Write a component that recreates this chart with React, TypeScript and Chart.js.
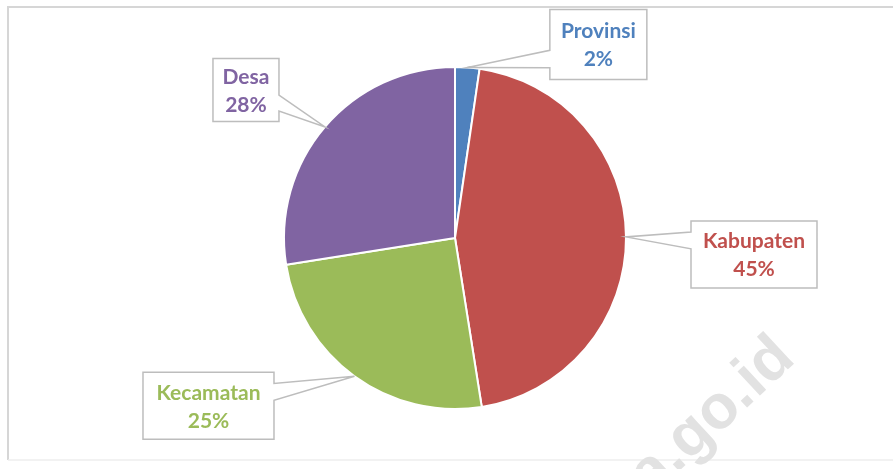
import React, { useEffect, useRef } from "react";
import { Chart, registerables } from "chart.js";

Chart.register(...registerables);

// ---- data ----
const categories = ["Provinsi", "Kabupaten", "Kecamatan", "Desa"];
const shares = [2.3, 45.2, 25.0, 27.5];
const sliceColors = ["#4F81BD", "#C0504D", "#9BBB59", "#8064A2"];
const watermarkText = "kemendesa.go.id";

// ---- callout layout (box centre offset from slice anchor, box size) ----
const calloutLayout = [
  { dx: 131, dy: -23, w: 97, h: 70 },
  { dx: 128, dy: 17.5, w: 126, h: 67 },
  { dx: -146, dy: 29.5, w: 131, h: 67 },
  { dx: -79, dy: -37, w: 66, h: 63 },
];

const framePlugin = {
  id: "frame",
  beforeDraw(chart: any) {
    const ctx = chart.ctx as CanvasRenderingContext2D;
    const W = chart.width;
    const H = chart.height;
    ctx.save();
    ctx.fillStyle = "#ffffff";
    ctx.fillRect(0, 0, W, H);
    ctx.strokeStyle = "#d6d6d6";
    ctx.lineWidth = 2;
    ctx.beginPath();
    ctx.moveTo(8, 460);
    ctx.lineTo(8, 7);
    ctx.lineTo(W + 2, 7);
    ctx.stroke();
    ctx.strokeStyle = "#eeeeee";
    ctx.lineWidth = 1.5;
    ctx.beginPath();
    ctx.moveTo(8, 460);
    ctx.lineTo(W + 2, 460);
    ctx.stroke();
    // watermark
    ctx.translate(797, 361);
    ctx.rotate((-43 * Math.PI) / 180);
    ctx.font = "bold 62px 'Liberation Sans', Arial, sans-serif";
    ctx.textAlign = "right";
    ctx.textBaseline = "alphabetic";
    ctx.fillStyle = "#e2e2e2";
    ctx.fillText(watermarkText, 0, 0);
    ctx.restore();
  },
};

const calloutPlugin = {
  id: "callouts",
  afterDatasetsDraw(chart: any) {
    const ctx = chart.ctx as CanvasRenderingContext2D;
    const meta = chart.getDatasetMeta(0);
    const values: number[] = chart.data.datasets[0].data;
    const total = values.reduce((a, b) => a + b, 0);
    meta.data.forEach((arc: any, i: number) => {
      const p = arc.getProps(["x", "y", "startAngle", "endAngle", "outerRadius"], true);
      const mid = (p.startAngle + p.endAngle) / 2;
      const ax = p.x + Math.cos(mid) * p.outerRadius;
      const ay = p.y + Math.sin(mid) * p.outerRadius;
      const L = calloutLayout[i];
      const cx = ax + L.dx;
      const cy = ay + L.dy;
      const l = cx - L.w / 2;
      const t = cy - L.h / 2;
      const r = l + L.w;
      const b = t + L.h;
      const dxPos = ax - cx;
      const dyPos = ay - cy;
      const horizontal = Math.abs(dyPos) < Math.abs((dxPos * L.h) / L.w);
      const y1 = t + (L.h * (dyPos > 0 ? 7 : 2)) / 12;
      const y2 = t + (L.h * (dyPos > 0 ? 10 : 5)) / 12;
      const x1 = l + (L.w * (dxPos > 0 ? 7 : 2)) / 12;
      const x2 = l + (L.w * (dxPos > 0 ? 10 : 5)) / 12;

      ctx.save();
      ctx.beginPath();
      ctx.moveTo(l, t);
      if (!horizontal && dyPos < 0) {
        ctx.lineTo(x1, t);
        ctx.lineTo(ax, ay);
        ctx.lineTo(x2, t);
      }
      ctx.lineTo(r, t);
      if (horizontal && dxPos > 0) {
        ctx.lineTo(r, y1);
        ctx.lineTo(ax, ay);
        ctx.lineTo(r, y2);
      }
      ctx.lineTo(r, b);
      if (!horizontal && dyPos > 0) {
        ctx.lineTo(x2, b);
        ctx.lineTo(ax, ay);
        ctx.lineTo(x1, b);
      }
      ctx.lineTo(l, b);
      if (horizontal && dxPos < 0) {
        ctx.lineTo(l, y2);
        ctx.lineTo(ax, ay);
        ctx.lineTo(l, y1);
      }
      ctx.closePath();
      ctx.fillStyle = "#ffffff";
      ctx.fill();
      ctx.strokeStyle = "#bdbdbd";
      ctx.lineWidth = 1.5;
      ctx.lineJoin = "miter";
      ctx.stroke();

      ctx.fillStyle = sliceColors[i];
      ctx.font = "bold 21px Lato, 'Open Sans', sans-serif";
      ctx.textAlign = "center";
      ctx.textBaseline = "middle";
      const pct = Math.round((values[i] / total) * 100) + "%";
      ctx.fillText(categories[i], cx, cy - 13);
      ctx.fillText(pct, cx, cy + 15);
      ctx.restore();
    });
  },
};

export default function App() {
  const ref = useRef<HTMLCanvasElement>(null);
  useEffect(() => {
    const chart = new Chart(ref.current as HTMLCanvasElement, {
      type: "pie",
      data: {
        labels: categories,
        datasets: [
          {
            data: shares,
            backgroundColor: sliceColors,
            borderColor: "#ffffff",
            borderWidth: 2,
            hoverOffset: 0,
          },
        ],
      },
      options: {
        responsive: false,
        animation: false,
        layout: { padding: { left: 283, right: 266, top: 66, bottom: 59 } },
        plugins: {
          legend: { display: false },
          tooltip: { enabled: false },
        },
      },
      plugins: [framePlugin, calloutPlugin],
    } as any);
    return () => chart.destroy();
  }, []);
  return (
    <div
      style={{
        position: "fixed",
        left: 0,
        top: 0,
        width: 893,
        height: 469,
        background: "#ffffff",
      }}
    >
      <canvas ref={ref} width={893} height={469} style={{ display: "block" }} />
    </div>
  );
}
